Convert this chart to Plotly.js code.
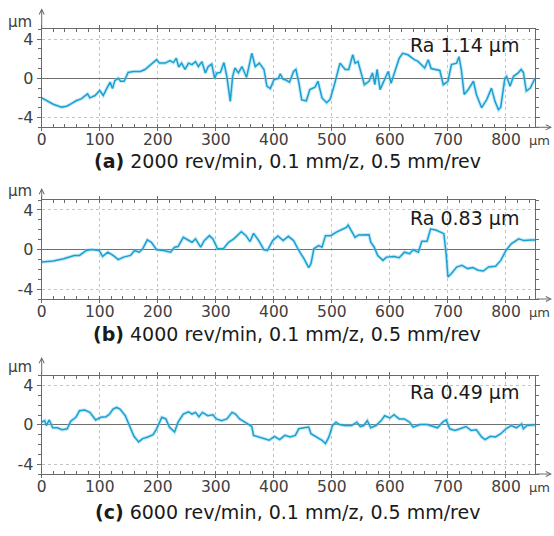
<!DOCTYPE html>
<html>
<head>
<meta charset="utf-8">
<script src="https://cdn.plot.ly/plotly-3.0.1.min.js"></script>
<style>html,body{margin:0;padding:0;background:#fff;}</style>
</head>
<body>
<div id="chart" style="width:554px;height:536px;"></div>
<script>
// ---- data (x in µm, height in µm) ----
const xA = [0,10,20,34,43,52,60,68,75,79,83,92,100,106,112,118,122,126,132,136,142,149,158,170,178,190,198,203,213,221,227,232,236,241,247,253,259,265,270,276,282,287,293,298,302,308,314,319,325,329,333,339,345,353,360,362,368,375,383,388,394,400,408,411,416,420,427,434,438,443,448,456,462,471,476,483,491,497,505,514,523,529,536,540,545,556,564,570,574,578,583,590,597,602,610,616,622,631,642,648,660,666,671,677,686,692,700,706,715,719,723,728,735,744,749,758,767,775,781,787,791,798,801,807,813,821,826,830,835,842,850];
const yA = [-2.0,-2.35,-2.65,-2.94,-2.85,-2.55,-2.27,-2.1,-1.83,-1.6,-2.0,-1.76,-1.25,-1.76,-1.05,-0.4,-1.05,-0.24,0,-0.3,-0.3,0.6,0.7,0.7,0.9,1.55,1.9,1.55,1.55,1.8,1.6,2.05,1.15,1.55,0.9,1.55,1.4,1.7,1.2,1.7,0.55,1.2,1.45,0,0.55,0.6,1.6,0.2,-2.35,0.2,1.05,0.55,1.2,0.1,2.05,2.55,1.2,1.55,0.9,-0.8,-1.05,-0.15,0,0.45,-0.1,-0.15,-0.4,0.7,0.9,-0.4,-2.2,-2.3,-1.15,-0.9,-0.3,-2.0,-2.5,-2.15,-0.5,1.55,0.9,0.9,2.4,1.55,1.7,-0.65,-0.3,0.55,-0.65,0.9,-1.15,-0.3,0.7,-0.5,1.05,2.05,2.55,2.4,1.9,1.75,1.05,1.9,1.0,0.9,0.8,-0.65,-0.3,1.4,1.55,2.2,0.9,-1.65,-1.15,-0.3,-1.65,-3.0,-2.15,-1.0,-2.35,-3.2,-2.95,0,0.2,-0.8,0.2,0.55,0.9,0.6,-1.3,-1.0,0];

const xB = [0,20,38,56,65,77,86,99,105,114,123,132,141,153,160,168,174,182,189,198,210,222,229,235,244,253,259,265,274,280,289,295,303,313,322,331,344,352,359,365,374,383,389,398,407,416,425,434,443,452,460,464,469,477,483,489,498,507,516,525,528,534,540,546,555,564,567,573,579,588,594,607,616,625,634,640,649,655,664,670,679,688,693,697,700,706,715,724,734,743,752,761,770,782,791,800,809,822,831,843,850];
const yB = [-1.27,-1.17,-0.93,-0.6,-0.6,-0.1,0,-0.1,-0.7,-0.27,-0.6,-1.03,-0.77,-0.6,-0.1,-0.27,0.07,0.97,0.73,-0.03,-0.1,-0.27,0.23,0.3,1.23,0.9,0.73,1.07,0.23,0.9,1.4,1.07,0.07,0.07,0.73,1.07,1.8,1.4,0.8,1.63,0.9,-0.03,-0.1,0.9,1.37,0.9,1.33,0.9,-0.1,-0.93,-1.83,-1.43,0.07,0.4,0.23,1.4,1.4,1.73,1.97,2.23,2.47,1.9,1.23,1.47,1.5,1.5,0.73,0.23,-0.6,-1.1,-0.77,-0.7,-0.83,-0.27,-0.43,-0.03,-0.27,0.83,0.83,2.07,1.97,1.73,1.6,-0.5,-2.77,-2.43,-1.77,-1.6,-1.93,-1.83,-2.1,-2.17,-1.77,-1.7,-1.1,-0.1,0.57,1.07,0.9,0.97,0.95];

const xC = [0,5,8,13,19,27,35,44,50,59,65,74,83,93,102,111,117,123,129,135,144,153,159,167,174,183,192,198,207,214,220,229,235,244,253,259,265,271,277,286,295,301,310,319,328,334,341,353,362,365,374,383,392,401,410,419,428,437,443,452,460,464,474,483,489,495,501,507,513,522,534,543,549,555,561,567,576,585,591,600,607,616,625,634,640,652,664,676,682,691,697,703,712,721,731,740,749,758,764,773,782,791,800,809,818,827,830,836,845,850];
const yC = [0.27,0.43,-0.07,0.5,-0.3,-0.3,-0.5,-0.4,0.37,0.77,1.43,1.5,1.27,0.5,0.77,0.83,1.1,1.6,1.77,1.6,0.93,-0.23,-1.17,-1.73,-1.4,-1.23,-1.0,-0.4,0.77,0.6,-0.23,-0.73,0.27,1.1,1.33,1.1,1.27,0.83,1.27,0.93,1.03,0.6,0.43,0.6,1.27,1.1,0.6,0.17,-0.17,-1.07,-1.23,-1.4,-1.57,-1.17,-1.5,-1.07,-1.23,-1.07,-0.4,-0.3,-0.23,-0.9,-1.23,-1.57,-1.9,-1.23,-0.07,0.27,0.03,-0.07,-0.07,0.27,-0.17,-0.07,0.43,-0.3,-0.07,0.43,0.93,0.7,1.03,0.6,0.6,0.27,-0.23,0.03,0.03,-0.17,-0.3,0.27,0.5,-0.4,-0.57,-0.4,-0.17,-0.57,-0.5,-1.23,-1.5,-1.17,-1.23,-0.9,-0.4,-0.07,-0.3,0.1,-0.4,-0.07,-0.07,0];

const xTickVals = [0,100,200,300,400,500,600,700,800];
const xTickText = ['0','100','200','300','400','500','600','700','800'];
const yTickVals = [-4,0,4];
const yTickText = ['-4','0','4'];
const captions = [
  '<b>(a)</b> 2000 rev/min, 0.1 mm/z, 0.5 mm/rev',
  '<b>(b)</b> 4000 rev/min, 0.1 mm/z, 0.5 mm/rev',
  '<b>(c)</b> 6000 rev/min, 0.1 mm/z, 0.5 mm/rev'
];
const raLabels = ['Ra 1.14 μm','Ra 0.83 μm','Ra 0.49 μm'];

// ---- layout geometry (pixels) ----
const W = 554, H = 536;
const px = v => v / W;
const py = v => 1 - v / H;
const plotLeft = 41.7, plotRight = 535;
const panels = [
  {top: 29.3, bottom: 127.3, arrowTip: 8.3, unitY: 22, cap: 161, ra: 45},
  {top: 200, bottom: 299, arrowTip: 188, unitY: 191, cap: 334, ra: 218},
  {top: 375.7, bottom: 474, arrowTip: 357, unitY: 367, cap: 512, ra: 392}
];

const LINE = '#1C9FD2';
const AX = '#6a6a6a';
const GRID = '#c4c4c4';
const TXT = '#404040';
const FONT = 'DejaVu Sans, Liberation Sans, Arial, sans-serif';

function xaxisDef(i) {
  return {
    domain: [px(plotLeft), px(plotRight)],
    anchor: i === 0 ? 'y' : 'y' + (i + 1),
    range: [0, 850],
    tickmode: 'array', tickvals: xTickVals, ticktext: xTickText,
    showgrid: true, gridcolor: GRID, griddash: 'dot', gridwidth: 1,
    zeroline: false,
    showline: true, linecolor: AX, linewidth: 1, mirror: 'allticks',
    ticks: 'outside', ticklen: 3, tickcolor: AX,
    ticklabelstandoff: -5,
    minor: {dtick: 20, tick0: 0, ticks: 'inside', ticklen: 3, tickcolor: AX, showgrid: false},
    tickfont: {size: 15.5, color: TXT, family: FONT},
    fixedrange: true
  };
}
function yaxisDef(i) {
  const p = panels[i];
  return {
    domain: [py(p.bottom), py(p.top)],
    anchor: i === 0 ? 'x' : 'x' + (i + 1),
    range: [-5, 5],
    tickmode: 'array', tickvals: yTickVals, ticktext: yTickText,
    showgrid: true, gridcolor: GRID, griddash: 'dot', gridwidth: 1,
    zeroline: true, zerolinecolor: '#707070', zerolinewidth: 1,
    showline: true, linecolor: AX, linewidth: 1, mirror: 'allticks',
    ticks: 'outside', ticklen: 4, tickcolor: AX,
    minor: {dtick: 1, tick0: 0, ticks: 'outside', ticklen: 3, tickcolor: AX, showgrid: false},
    tickfont: {size: 16, color: TXT, family: FONT},
    fixedrange: true
  };
}

const series = [[xA, yA], [xB, yB], [xC, yC]];
const traces = [];
series.forEach((s, i) => {
  const xa = i === 0 ? 'x' : 'x' + (i + 1);
  const ya = i === 0 ? 'y' : 'y' + (i + 1);
  traces.push({x: s[0], y: s[1], type: 'scatter', mode: 'lines', xaxis: xa, yaxis: ya,
    line: {color: '#7fd0ec', width: 3.6}, opacity: 0.45, hoverinfo: 'skip'});
  traces.push({x: s[0], y: s[1], type: 'scatter', mode: 'lines', xaxis: xa, yaxis: ya,
    line: {color: LINE, width: 1.5}});
});

const annotations = [];
panels.forEach((p, i) => {
  annotations.push({xref: 'paper', yref: 'paper', x: px(287), y: py(p.cap), text: captions[i],
    showarrow: false, xanchor: 'center', yanchor: 'middle', font: {size: 19, color: '#1a1a1a', family: FONT}});
  annotations.push({xref: 'paper', yref: 'paper', x: px(521), y: py(p.ra), text: raLabels[i],
    showarrow: false, xanchor: 'right', yanchor: 'middle', font: {size: 19, color: '#1a1a1a', family: FONT}});
  annotations.push({xref: 'paper', yref: 'paper', x: px(20), y: py(p.unitY), text: 'µm',
    showarrow: false, xanchor: 'center', yanchor: 'middle', font: {size: 15, color: TXT, family: FONT}});
  annotations.push({xref: 'paper', yref: 'paper', x: px(539), y: py(p.bottom + 13), text: 'µm',
    showarrow: false, xanchor: 'center', yanchor: 'middle', font: {size: 13, color: TXT, family: FONT}});
  // y axis arrow
  annotations.push({xref: 'paper', yref: 'paper', x: px(plotLeft), y: py(p.arrowTip), text: '',
    showarrow: true, arrowhead: 5, arrowsize: 1, arrowwidth: 1, arrowcolor: AX,
    ax: 0, ay: p.top - p.arrowTip, standoff: 0});
  // x axis arrow
  annotations.push({xref: 'paper', yref: 'paper', x: px(552), y: py(p.bottom), text: '',
    showarrow: true, arrowhead: 5, arrowsize: 1, arrowwidth: 1, arrowcolor: AX,
    ax: -(552 - plotRight), ay: 0, standoff: 0});
});

const layout = {
  width: W, height: H,
  margin: {l: 0, r: 0, t: 0, b: 0},
  paper_bgcolor: '#ffffff', plot_bgcolor: '#ffffff',
  showlegend: false,
  font: {family: FONT, size: 16, color: TXT},
  annotations: annotations
};
for (let i = 0; i < 3; i++) {
  layout[i === 0 ? 'xaxis' : 'xaxis' + (i + 1)] = xaxisDef(i);
  layout[i === 0 ? 'yaxis' : 'yaxis' + (i + 1)] = yaxisDef(i);
}

Plotly.newPlot('chart', traces, layout, {displayModeBar: false, staticPlot: true});
</script>
</body>
</html>
